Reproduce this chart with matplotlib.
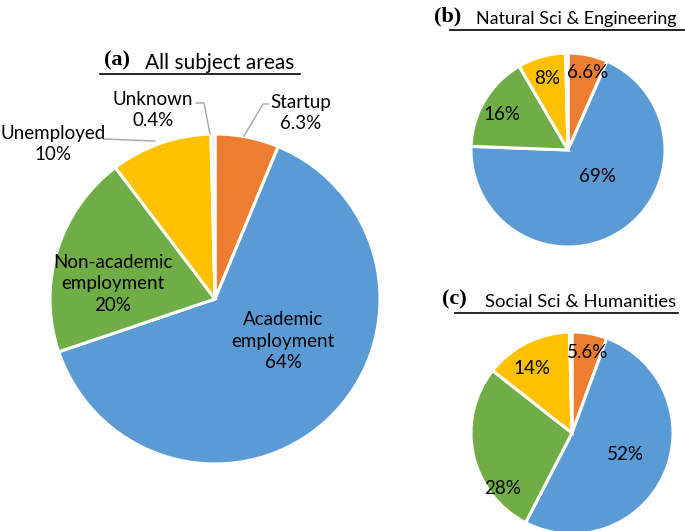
import numpy as np
import matplotlib
matplotlib.use("Agg")
import matplotlib.pyplot as plt

# ---------------------------------------------------------------------------
# Datos
# ---------------------------------------------------------------------------
categorias = ["Startup", "Academic\nemployment", "Non-academic\nemployment",
              "Unemployed", "Unknown"]
colores = ["#ED7D31", "#5B9BD5", "#70AD47", "#FFC000", "#D9D9D9"]

valores_a = [6.3, 64, 20, 10, 0.4]
valores_b = [6.6, 69, 16, 8, 0.4]
valores_c = [5.6, 52, 28, 14, 0.4]

etiquetas_a = ["6.3%", "64%", "20%", "10%", "0.4%"]
etiquetas_b = ["6.6%", "69%", "16%", "8%", ""]
etiquetas_c = ["5.6%", "52%", "28%", "14%", ""]

W, H = 685, 531
FUENTE = ["Lato", "DejaVu Sans"]
TAM = 13.5

fig = plt.figure(figsize=(W / 100, H / 100), dpi=100)
ax = fig.add_axes([0, 0, 1, 1])
ax.set_xlim(0, W)
ax.set_ylim(0, H)
ax.set_aspect("equal")
ax.axis("off")


def dibujar_pie(valores, centro, radio):
    cuñas, _ = ax.pie(
        valores, colors=colores, startangle=90, counterclock=False,
        center=(centro[0], H - centro[1]), radius=radio,
        wedgeprops=dict(edgecolor="white", linewidth=2.2),
        normalize=True,
    )
    ax.set_xlim(0, W)
    ax.set_ylim(0, H)
    return cuñas


def titulo(letra, texto_t, x, x_texto, y, x0, x1, tam):
    ax.text(x, H - y, letra, fontsize=16, fontweight="bold",
            family=["Liberation Serif", "DejaVu Serif"], ha="left", va="center")
    ax.text(x_texto, H - y - 3, texto_t, fontsize=tam, family=FUENTE,
            ha="left", va="center")
    ax.plot([x0, x1], [H - y - 14, H - y - 14], color="black", lw=1.2)


def texto(x, y, s):
    ax.text(x, H - y, s, fontsize=TAM, family=FUENTE, ha="center", va="center",
            linespacing=1.3)


# posiciones de las etiquetas (píxeles desde arriba a la izquierda)
pos_a = [(301, 113), (283, 341), (113, 284), (53, 144), (153, 110)]
pos_b = [(588, 73), (597, 177), (502, 115), (547, 78)]
pos_c = [(588, 352), (625, 455), (503, 488), (532, 368)]

# --- (a) Todas las áreas ---
cuñas_a = dibujar_pie(valores_a, (215, 299), 165)
titulo("(a)", "All subject areas", 104, 145, 60, 100, 300, 15)

for i in range(5):
    texto(*pos_a[i], f"{categorias[i]}\n{etiquetas_a[i]}")

gris = "#A6A6A6"
# Startup
ax.plot([244, 263, 268], [H - 136, H - 104, H - 104], color=gris, lw=1)
# Unknown
ax.plot([196, 204, 210], [H - 103, H - 103, H - 134], color=gris, lw=1)
# Unemployed
ax.plot([104, 155], [H - 139, H - 141], color=gris, lw=1)

# --- (b) Ciencias naturales e ingeniería ---
cuñas_b = dibujar_pie(valores_b, (568, 150), 97)
titulo("(b)", "Natural Sci & Engineering", 434, 476, 16, 450, 685, 12.9)
for i in range(4):
    texto(*pos_b[i], etiquetas_b[i])

# --- (c) Ciencias sociales y humanidades ---
cuñas_c = dibujar_pie(valores_c, (572, 433), 101)
titulo("(c)", "Social Sci & Humanities", 442, 485, 299, 455, 678, 13.3)
for i in range(4):
    texto(*pos_c[i], etiquetas_c[i])

fig.savefig("out.png", dpi=100, facecolor="white")
